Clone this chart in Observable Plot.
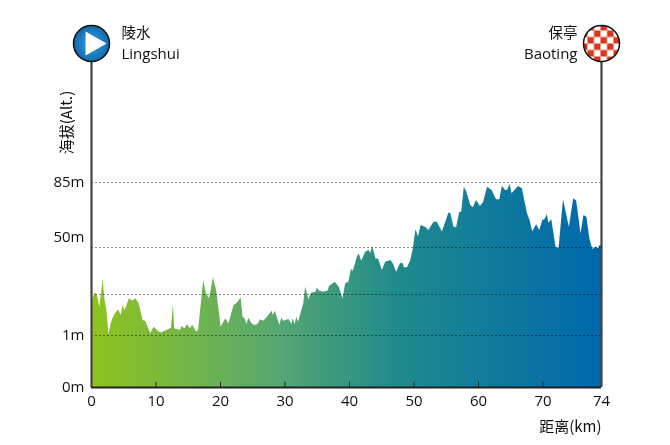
<!DOCTYPE html>
<html><head><meta charset="utf-8">
<script src="https://cdn.jsdelivr.net/npm/d3@7"></script>
<script src="https://cdn.jsdelivr.net/npm/@observablehq/plot@0.6"></script>
<style>html,body{margin:0;padding:0;background:#fff}svg{display:block}</style>
</head><body><div id="chart"></div>
<script>
const distanceKm = [
0,.6,.9,1.3,1.8,2.1,2.4,2.7,3.2,3.7,
4.2,4.6,4.9,5.2,5.9,6.4,6.9,7.4,8,8.4,
9.2,9.7,10.5,10.8,11.7,12.4,12.7,12.9,13.8,14,
14.5,14.9,15.3,15.7,16.3,16.6,17.4,17.8,18.3,18.9,
19.4,20.1,20.8,21.3,22.1,22.6,23.2,23.5,23.8,24.1,
24.4,24.9,25.4,25.8,26.2,26.7,27.5,28,28.2,28.5,
29.2,29.5,29.8,30.6,31.1,31.2,31.6,31.8,32.1,32.9,
33.2,33.7,34.1,34.8,35,35.3,36,36.7,36.9,37.8,
38.4,39,39.4,39.9,40.3,40.6,41.2,41.5,41.9,42.5,
43,43.3,43.6,44.1,44.5,45.1,45.6,46.4,46.8,47.3,
47.9,48.3,48.5,49,49.5,49.9,50.3,50.7,51.1,51.8,
52.3,53.1,53.6,54.4,55.4,55.7,56.2,56.6,57.1,57.4,
57.8,58.2,58.8,59.2,59.7,60.3,60.8,61.4,62.1,62.8,
63.3,63.7,64.2,64.5,64.9,65.2,66.2,66.8,67.6,68,
68.4,69,69.5,70,70.1,70.3,70.4,70.6,70.9,71.1,
71.4,71.8,72.1,72.3,72.6,72.8,73,73.2,73.4,73.6,
73.8,73.9,74];
const altitudeM = [
20.5,25.9,24.4,17.6,32.8,21.5,15.6,1.6,9.8,13.7,
16,12.7,18.6,15.6,22.5,21.1,22.5,19.5,9.8,9.2,
2,5.9,3,2.4,3.9,5.3,19.1,4.9,3.9,6.3,
4.9,7.4,4.9,6.9,3,3.9,32.4,25.4,22.5,33.9,
27.1,5.9,10.8,7.8,18.6,19.9,23,11.7,10.8,7.4,
11.1,7.8,6.9,7.4,10.2,9.4,12.7,15.2,12.7,15.2,
6.9,11.3,9.4,10.4,7.4,10.8,7.4,11.7,8.8,19.5,
28.9,21.9,25.7,26.2,28.4,26.8,26.2,26.8,29.2,31.5,
28.9,22.5,30.7,31.5,38.3,37.4,44.8,46.6,42.7,47.5,
48.4,47,50.5,43.9,43.9,37.7,42.2,43.1,41.3,36.9,
41.3,41.6,39.2,39.2,43.1,49.3,59.5,55.6,61.8,60.9,
59.1,63.6,63.6,58.3,68.5,68.5,60.9,60.6,69,69,
82.5,79.8,72.6,71.4,75.3,72.1,74.4,82.5,80.7,75.7,
75.7,83,80.7,80.7,83.9,78.9,82.8,81.6,68.1,64.5,
58.3,62.2,59.2,64.9,64.5,67.6,63.1,64.9,49.8,49.8,
75.7,60.9,76.2,75,57.4,67.2,66.3,54.7,48.9,50.2,
49.3,51.1,51.1];
const xTicks = [0,10,20,30,40,50,60,70,74];
const yLabelled = [0,1,85];
const yLabelledRaised = [50];
const gridLevels = [1,25,50,85];
const profile = distanceKm.map((km,i)=>({km, alt: altitudeM[i]}));
const TOP = 160;

const defs = () => {
  const d = d3.create("svg:defs");
  const g = d.append("linearGradient").attr("id","ramp").attr("x1",0).attr("x2",1).attr("y1",0).attr("y2",0);
  [[0,"#8fc41c"],[.35,"#5aa96f"],[.6,"#1f8a8c"],[1,"#0068ad"]].forEach(([o,c])=>g.append("stop").attr("offset",o).attr("stop-color",c));
  const r = d.append("radialGradient").attr("id","ball");
  r.append("stop").attr("offset",.3).attr("stop-color","#2a8fd6");
  r.append("stop").attr("offset",1).attr("stop-color","#116bab");
  const p = d.append("pattern").attr("id","checker").attr("patternUnits","userSpaceOnUse").attr("width",13).attr("height",13).attr("x",2).attr("y",4);
  p.append("rect").attr("width",13).attr("height",13).attr("fill","#d9351c");
  p.append("rect").attr("width",6.5).attr("height",6.5).attr("fill","#fff");
  p.append("rect").attr("x",6.5).attr("y",6.5).attr("width",6.5).attr("height",6.5).attr("fill","#fff");
  return d.node();
};
const cjk = '"Noto Sans CJK SC", sans-serif';
const latin = '"Open Sans", sans-serif';
const ink = "#111";

const chart = Plot.plot({
  width:670, height:445, marginLeft:91, marginRight:69, marginTop:43, marginBottom:58,
  style:{background:"#fff", fontFamily:latin, color:ink},
  x:{type:"linear", domain:[0,70,74], range:[91,542.5,601]},
  y:{type:"linear", domain:[0,1,25,50,85,TOP], range:[387,335,294,247,182,43]},
  marks:[
    defs,
    Plot.areaY(profile,{x:"km",y:"alt",fill:"url(#ramp)",curve:"linear"}),
    Plot.ruleY(gridLevels,{x1:0,x2:74,stroke:"#8a8a8a",strokeWidth:1,strokeDasharray:"2,2",mixBlendMode:"multiply"}),
    Plot.ruleX(xTicks.filter(d=>d>0&&d<74),{y1:0,y2:.1,stroke:"#222",strokeWidth:1}),
    Plot.ruleX([0,74],{y1:0,y2:TOP,stroke:"#444",strokeWidth:2.2}),
    Plot.ruleY([0],{x1:0,x2:74,stroke:"#222",strokeWidth:2}),
    Plot.axisX(xTicks,{anchor:"bottom",tickSize:0,tickPadding:8,fontSize:15,label:null,tickFormat:d=>String(d)}),
    Plot.axisY(yLabelled,{anchor:"left",tickSize:0,tickPadding:7,fontSize:15,label:null,tickFormat:d=>d+"m"}),
    Plot.axisY(yLabelledRaised,{anchor:"left",tickSize:0,tickPadding:7,fontSize:15,label:null,dy:-10,tickFormat:d=>d+"m"}),
    Plot.dot([0],{x:d=>d,y:()=>TOP,r:18,fill:"url(#ball)",stroke:"#111",strokeWidth:1.5}),
    Plot.dot([0],{x:d=>d,y:()=>TOP,r:8,dx:1,symbol:"triangle",rotate:90,fill:"#fff",stroke:"#fff"}),
    Plot.dot([74],{x:d=>d,y:()=>TOP,r:18,fill:"url(#checker)",stroke:"#111",strokeWidth:1.5}),
    Plot.text(["陵水"],{x:()=>0,y:()=>TOP,dx:30,dy:-10,textAnchor:"start",fontSize:14.5,fontFamily:cjk,fill:ink}),
    Plot.text(["Lingshui"],{x:()=>0,y:()=>TOP,dx:30,dy:11,textAnchor:"start",fontSize:15,fontFamily:latin,fill:ink}),
    Plot.text(["保亭"],{x:()=>74,y:()=>TOP,dx:-24,dy:-10,textAnchor:"end",fontSize:14.5,fontFamily:cjk,fill:ink}),
    Plot.text(["Baoting"],{x:()=>74,y:()=>TOP,dx:-24,dy:11,textAnchor:"end",fontSize:15,fontFamily:latin,fill:ink}),
    Plot.text(["海拔(Alt.)"],{x:()=>0,y:()=>TOP,dx:-24,dy:79,rotate:-90,fontSize:15,fontFamily:cjk,fill:ink}),
    Plot.text(["距离(km)"],{x:()=>74,y:()=>0,dy:40,textAnchor:"end",fontSize:15,fontFamily:cjk,fill:ink})
  ]
});
document.getElementById("chart").append(chart);
</script></body></html>
